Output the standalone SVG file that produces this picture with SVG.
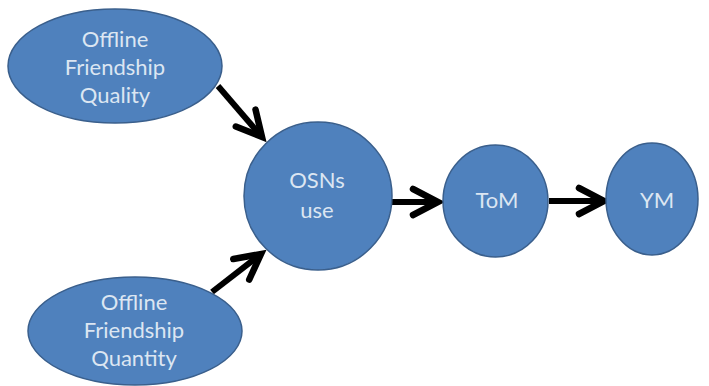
<svg xmlns="http://www.w3.org/2000/svg" width="709" height="386" viewBox="0 0 709 386">
  <style>
    .node { fill: #4F81BD; stroke: #3A5F8C; stroke-width: 1.5; }
    .label { font-family: Lato, "Open Sans", "Liberation Sans", sans-serif; font-size: 22px; fill: #DCE6F2; text-anchor: middle; }
    .edge { stroke: #000; stroke-width: 6; fill: none; }
  </style>
  <defs>
    <marker id="chevron" markerUnits="userSpaceOnUse" markerWidth="40" markerHeight="40" viewBox="-32 -20 40 40" refX="0" refY="0" orient="auto" overflow="visible">
      <path d="M-25,-13 L0,0 L-25,13" fill="none" stroke="#000" stroke-width="6.5" stroke-linejoin="miter" stroke-linecap="round"/>
    </marker>
  </defs>
  <rect width="709" height="386" fill="#FFFFFF"/>

  <g id="connectors">
    <line class="edge" x1="218" y1="86" x2="262" y2="137" marker-end="url(#chevron)"/>
    <line class="edge" x1="212" y1="292" x2="261" y2="254" marker-end="url(#chevron)"/>
    <line class="edge" x1="388" y1="202" x2="438" y2="202" marker-end="url(#chevron)"/>
    <line class="edge" x1="549" y1="201" x2="604" y2="201" marker-end="url(#chevron)"/>
  </g>

  <g id="quality">
    <ellipse class="node" cx="115" cy="66" rx="107" ry="57"/>
    <text class="label" x="115" y="47">Offline</text>
    <text class="label" x="115" y="75">Friendship</text>
    <text class="label" x="115" y="103">Quality</text>
  </g>

  <g id="quantity">
    <ellipse class="node" cx="135" cy="331" rx="107" ry="54"/>
    <text class="label" x="134" y="310">Offline</text>
    <text class="label" x="134" y="338">Friendship</text>
    <text class="label" x="134" y="366">Quantity</text>
  </g>

  <g id="osns">
    <ellipse class="node" cx="318" cy="196" rx="74" ry="74"/>
    <text class="label" x="317" y="188">OSNs</text>
    <text class="label" x="317" y="218">use</text>
  </g>

  <g id="tom">
    <ellipse class="node" cx="495.5" cy="201" rx="52.5" ry="56"/>
    <text class="label" x="497" y="208">ToM</text>
  </g>

  <g id="ym">
    <ellipse class="node" cx="652" cy="199" rx="46" ry="56"/>
    <text class="label" x="657" y="208">YM</text>
  </g>
</svg>
